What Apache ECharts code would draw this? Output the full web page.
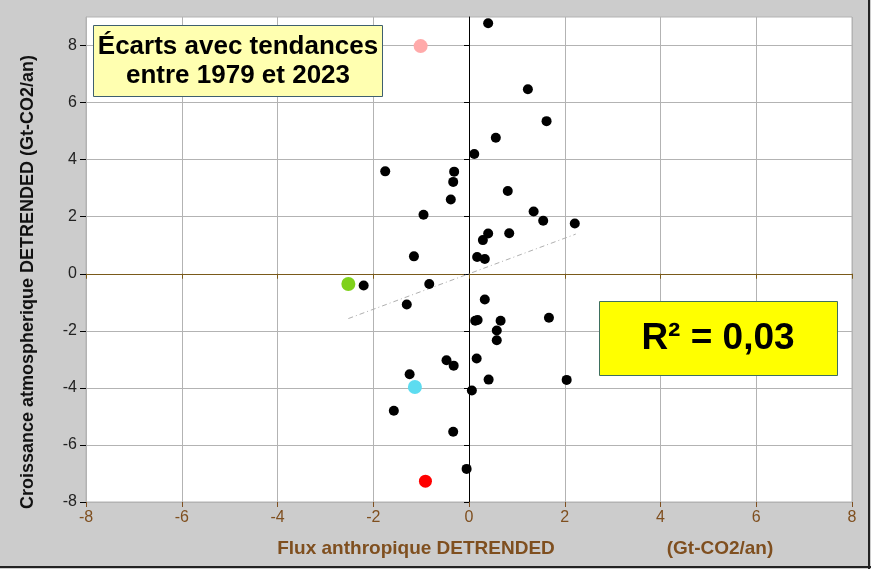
<!DOCTYPE html>
<html>
<head>
<meta charset="utf-8">
<script src="https://cdn.jsdelivr.net/npm/echarts@6/dist/echarts.min.js"></script>
<style>html,body{margin:0;padding:0;background:#cccccc;}#c{width:871px;height:569px;}</style>
</head>
<body>
<div id="c"></div>
<script>
// Black points: detrended anthropogenic flux (x) vs detrended atmospheric growth (y)
const xBlack = [0.40, 1.23, 1.62, 0.56, 0.11, -1.75, -0.31, -0.33, 0.81, -0.38, -0.95, 1.35, 1.55, 2.21, 0.40, 0.84, 0.29, -1.15, 0.17, 0.33,
                -2.20, -0.83, -1.30, 0.33, 0.13, 0.18, 0.66, 1.67, 0.58, 0.58, 0.16, -0.47, -0.32, -1.24, 0.41, 2.04, 0.06, -1.57, -0.33, -0.05];
const yBlack = [8.78, 6.47, 5.35, 4.77, 4.20, 3.59, 3.58, 3.22, 2.90, 2.60, 2.07, 2.18, 1.86, 1.76, 1.41, 1.42, 1.18, 0.61, 0.59, 0.52,
                -0.41, -0.36, -1.08, -0.90, -1.65, -1.62, -1.65, -1.54, -1.99, -2.33, -2.97, -3.03, -3.22, -3.52, -3.71, -3.72, -4.09, -4.80, -5.54, -6.84];
// Highlighted points
const pinkPt = [-1.01, 7.98];
const greenPt = [-2.52, -0.36];
const cyanPt = [-1.13, -3.97];
const redPt = [-0.91, -7.27];
// Trend line endpoints
const trendX = [-2.52, 2.23];
const trendY = [-1.57, 1.39];
// Ticks
const xTicks = [-8, -6, -4, -2, 0, 2, 4, 6, 8];
const yTicks = [-8, -6, -4, -2, 0, 2, 4, 6, 8];

const brown = '#7f4f1f';
const gridCol = '#b3b3b3';
const chart = echarts.init(document.getElementById('c'));
const blackData = xBlack.map((x, i) => [x, yBlack[i]]);
const trendData = trendX.map((x, i) => [x, trendY[i]]);
const font = 'Liberation Sans, Arial, sans-serif';

chart.setOption({
  animation: false,
  backgroundColor: '#cccccc',
  grid: { left: 86, right: 19, top: 17, bottom: 67, show: true, backgroundColor: '#ffffff', borderColor: gridCol, borderWidth: 1 },
  xAxis: [
    { type: 'value', min: -8, max: 8, interval: 2, position: 'bottom',
      axisLine: { show: true, onZero: false, lineStyle: { color: gridCol } },
      axisTick: { show: true, length: 5, lineStyle: { color: brown } },
      axisLabel: { color: brown, fontSize: 16, fontFamily: font, margin: 8 },
      splitLine: { show: true, lineStyle: { color: gridCol } } },
    { type: 'value', min: -8, max: 8, interval: 2, position: 'bottom',
      axisLine: { show: true, onZero: true, onZeroAxisIndex: 0, lineStyle: { color: '#7a5a1a' } },
      axisTick: { show: true, length: 5, lineStyle: { color: '#7a5a1a' } },
      axisLabel: { show: false }, splitLine: { show: false } }
  ],
  yAxis: [
    { type: 'value', min: -8, max: 9, interval: 2, position: 'left',
      axisLine: { show: true, onZero: false, lineStyle: { color: gridCol } },
      axisTick: { show: true, length: 6, lineStyle: { color: '#000' }, customValues: yTicks },
      axisLabel: { color: '#222', fontSize: 16, fontFamily: font, margin: 9, customValues: yTicks },
      splitLine: { show: true, lineStyle: { color: gridCol } } },
    { type: 'value', min: -8, max: 9, interval: 2, position: 'left',
      axisLine: { show: true, onZero: true, onZeroAxisIndex: 0, lineStyle: { color: '#000' } },
      axisTick: { show: true, length: 5, lineStyle: { color: '#000' }, customValues: yTicks },
      axisLabel: { show: false }, splitLine: { show: false } }
  ],
  series: [
    { type: 'line', data: trendData, xAxisIndex: 0, yAxisIndex: 0, symbol: 'none', z: 1,
      lineStyle: { color: '#b0b0b0', width: 1, type: [5, 3, 1, 3] } },
    { type: 'scatter', data: blackData, symbolSize: 10, itemStyle: { color: '#000', opacity: 1 }, z: 3 },
    { type: 'scatter', data: [pinkPt], symbolSize: 14, itemStyle: { color: '#ffaaaa', opacity: 1 }, z: 3 },
    { type: 'scatter', data: [greenPt], symbolSize: 14, itemStyle: { color: '#7fd11b', opacity: 1 }, z: 3 },
    { type: 'scatter', data: [cyanPt], symbolSize: 14, itemStyle: { color: '#5ddcf0', opacity: 1 }, z: 3 },
    { type: 'scatter', data: [redPt], symbolSize: 13, itemStyle: { color: '#ff0000', opacity: 1 }, z: 3 }
  ],
  graphic: [
    { type: 'rect', z: 10, shape: { x: 93.5, y: 25.5, width: 289, height: 71 }, style: { fill: '#ffffb0', stroke: '#3e5f6f', lineWidth: 1 } },
    { type: 'text', z: 11, x: 238, y: 47, style: { text: 'Écarts avec tendances', font: 'bold 26px ' + font, fill: '#000', align: 'center', verticalAlign: 'middle' } },
    { type: 'text', z: 11, x: 238, y: 76, style: { text: 'entre 1979 et 2023', font: 'bold 26px ' + font, fill: '#000', align: 'center', verticalAlign: 'middle' } },
    { type: 'rect', z: 10, shape: { x: 599.5, y: 301.5, width: 238, height: 74 }, style: { fill: '#ffff00', stroke: '#3e6f5f', lineWidth: 1 } },
    { type: 'text', z: 11, x: 718, y: 339, style: { text: 'R² = 0,03', font: 'bold 37px ' + font, fill: '#000', align: 'center', verticalAlign: 'middle' } },
    { type: 'text', z: 11, x: 416, y: 549, style: { text: 'Flux anthropique DETRENDED', font: 'bold 19px ' + font, fill: brown, align: 'center', verticalAlign: 'middle' } },
    { type: 'text', z: 11, x: 720, y: 549, style: { text: '(Gt-CO2/an)', font: 'bold 19px ' + font, fill: brown, align: 'center', verticalAlign: 'middle' } },
    { type: 'text', z: 11, x: 28, y: 282, rotation: Math.PI / 2, style: { text: 'Croissance atmospherique DETRENDED (Gt-CO2/an)', font: 'bold 18px ' + font, fill: '#111', align: 'center', verticalAlign: 'middle' } },
    { type: 'rect', z: 12, shape: { x: 868, y: 0, width: 2, height: 569 }, style: { fill: '#222' } },
    { type: 'rect', z: 12, shape: { x: 0, y: 566, width: 871, height: 2 }, style: { fill: '#222' } }
  ]
});
</script>
</body>
</html>
